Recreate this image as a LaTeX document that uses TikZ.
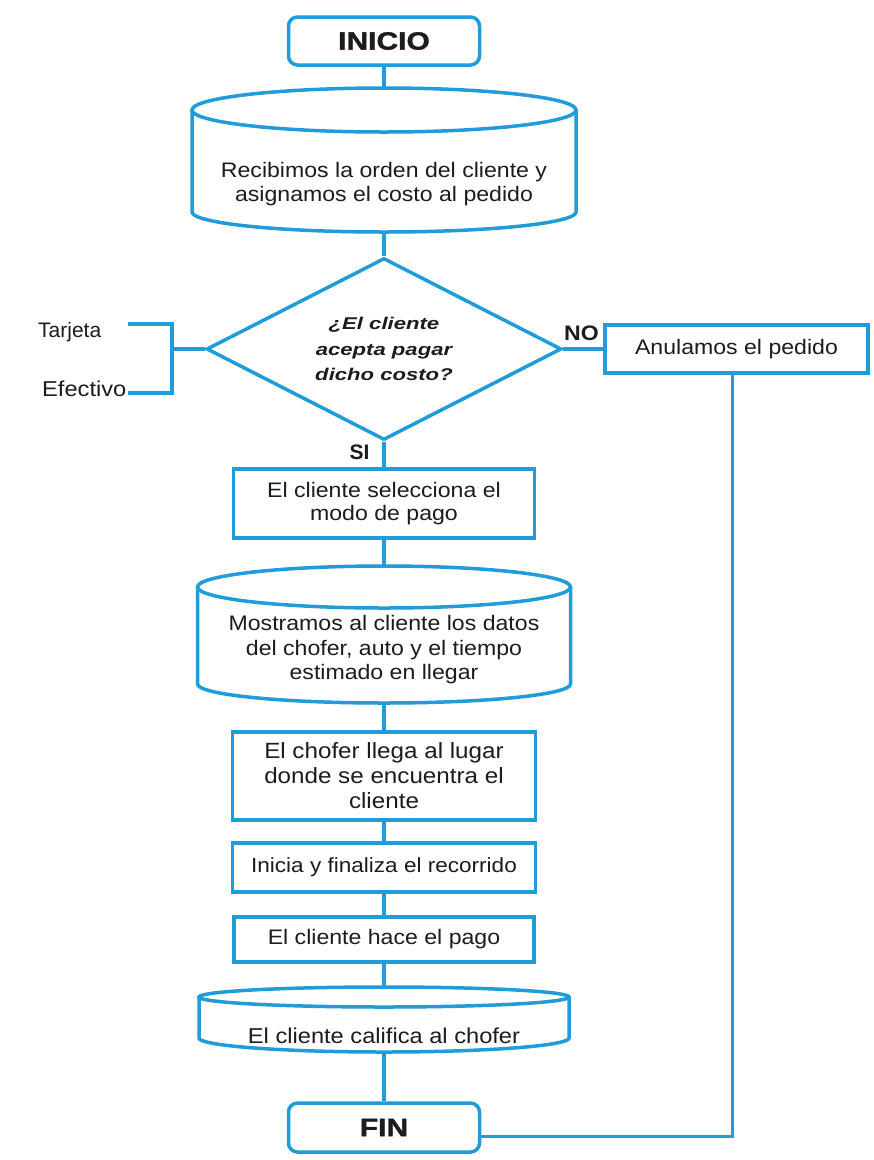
\documentclass[tikz,border=0pt]{standalone}
\usepackage{fontspec}
\setmainfont{Liberation Sans}
\newfontfamily\fbody[FakeStretch=1.1]{Liberation Sans}
\newfontfamily\fdia[FakeStretch=1.3]{Liberation Sans}
\newfontfamily\fhead[FakeStretch=1.2,FakeBold=1.5]{Liberation Sans}
\usetikzlibrary{shapes.geometric,calc}
\definecolor{fb}{RGB}{32,156,218}
\definecolor{tx}{RGB}{28,28,30}
\newcommand\drawcyl[6]{%
  \pgfmathsetmacro\cylcx{(#1+#2)/2}%
  \pgfmathsetmacro\cylrx{(#2-#1)/2}%
  \pgfmathsetmacro\cylkx{0.5523*\cylrx}%
  \pgfmathsetmacro\cylky{0.5523*#6}%
  \draw[line] (\cylcx,#3) ellipse [x radius=\cylrx pt, y radius=#4pt];
  \draw[line] (#1,#3) -- (#1,#5) .. controls (#1,#5+\cylky) and (\cylcx-\cylkx,#5+#6) .. (\cylcx,#5+#6)
     .. controls (\cylcx+\cylkx,#5+#6) and (#2,#5+\cylky) .. (#2,#5) -- (#2,#3);
}
\begin{document}
\begin{tikzpicture}[x=1pt,y=-1pt,
  line/.style={draw=fb,line width=3.5pt},
  proc/.style={draw=fb,line width=3.5pt,rectangle,inner sep=0pt,align=center,text=tx},
  term/.style={proc,rounded corners=9pt},
  holder/.style={rectangle,inner sep=0pt,outer sep=0pt},
  txt/.style={inner sep=0pt,align=center,text=tx},
  lbl/.style={inner sep=0pt,text=tx}]
\useasboundingbox[fill=white] (0,0) rectangle (874,1160);

% terminals
\node[term,minimum width=191,minimum height=48,font=\fhead\fontsize{25}{30}\selectfont\bfseries] (inicio) at (384,41) {INICIO};
\node[term,minimum width=191,minimum height=49,font=\fhead\fontsize{25}{30}\selectfont\bfseries] (fin) at (384,1127.5) {FIN};

% cylinder 1
\node[holder,minimum width=384,minimum height=144] (c1) at (384,160) {};
\drawcyl{192}{576}{110}{22}{212}{20}
\node[txt,font=\fbody\fontsize{21}{24}\selectfont] (c1t) at (384,184)
  {Recibimos la orden del cliente y\\asignamos el costo al pedido};

% decision
\node[diamond,draw=fb,line width=3.5pt,inner sep=0pt,aspect=1.95,
      minimum width=355,minimum height=182,align=center,text=tx,
      font=\fdia\fontsize{17}{25.5}\selectfont\bfseries\itshape] (dec) at (384,349)
  {¿El cliente\\acepta pagar\\dicho costo?};

% left options
\node[lbl,anchor=base west,font=\fontsize{21}{24}\selectfont] (tarj) at (38,337) {Tarjeta};
\node[lbl,anchor=base west,font=\fbody\fontsize{21.5}{24}\selectfont] (efec) at (42,396) {Efectivo};
\coordinate (tj) at (128,324);
\coordinate (tjc) at (172,324);
\coordinate (efc) at (172,393);
\coordinate (ef) at (128,393);
\draw[line] (tj) -- (tjc) -- (efc) -- (ef);
\draw[line] (efc |- dec.west) -- (dec.west);

% NO branch
\node[proc,minimum width=263,minimum height=48,font=\fbody\fontsize{21}{24}\selectfont] (anul) at (736.5,349)
  {Anulamos el pedido};
\node[lbl,font=\fbody\fontsize{21}{24}\selectfont\bfseries] (no) at (581.5,333) {NO};
\node[lbl,font=\fontsize{21}{24}\selectfont\bfseries] (si) at (359.5,452) {SI};

% process boxes
\node[proc,minimum width=301,minimum height=69,font=\fbody\fontsize{21}{23}\selectfont] (b2) at (384,503.5)
  {El cliente selecciona el\\modo de pago};

\node[holder,minimum width=373,minimum height=137] (c2) at (384,634.5) {};
\drawcyl{197.5}{570.5}{587}{21}{684}{19}
\node[txt,font=\fbody\fontsize{21}{24.5}\selectfont] (c2t) at (384,650)
  {Mostramos al cliente los datos\\del chofer, auto y el tiempo\\estimado en llegar};

\node[proc,minimum width=303,minimum height=88,font=\fbody\fontsize{22}{25}\selectfont] (b3) at (384,776)
  {El chofer llega al lugar\\donde se encuentra el\\cliente};
\node[proc,minimum width=303,minimum height=49,font=\fbody\fontsize{20.5}{24}\selectfont] (b4) at (384,867.5)
  {Inicia y finaliza el recorrido};
\node[proc,minimum width=300,minimum height=45,font=\fbody\fontsize{21}{24}\selectfont] (b5) at (384,939.5)
  {El cliente hace el pago};

\node[holder,minimum width=370,minimum height=65] (c3) at (384,1019.5) {};
\drawcyl{199}{569}{997}{10}{1038}{14}
\node[txt,font=\fbody\fontsize{21.5}{24}\selectfont] (c3t) at (384,1036)
  {El cliente califica al chofer};

% connectors
\draw[line] (inicio.south) -- (c1.north);
\draw[line] (c1.south) -- (dec.north);
\draw[line] (dec.east) -- (anul.west);
\draw[line] (dec.south) -- (b2.north);
\draw[line] (b2.south) -- (c2.north);
\draw[line] (c2.south) -- (b3.north);
\draw[line] (b3.south) -- (b4.north);
\draw[line] (b4.south) -- (b5.north);
\draw[line] (b5.south) -- (c3.north);
\draw[line] (c3.south) -- (fin.north);
\draw[line] ([yshift=-9pt]fin.east) -| ([xshift=-4pt]anul.south);
\end{tikzpicture}
\end{document}
